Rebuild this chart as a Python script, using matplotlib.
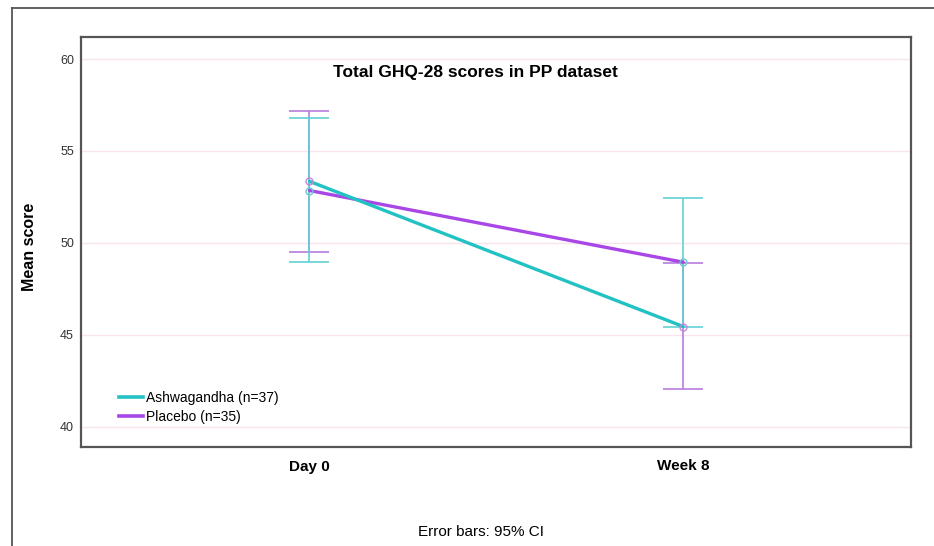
import matplotlib
matplotlib.use("Agg")
import matplotlib.pyplot as plt
from matplotlib.lines import Line2D

plt.rcParams['font.family'] = ['Liberation Sans', 'DejaVu Sans']

timepoints = ["Day 0", "Week 8"]
series_names = ["Ashwagandha (n=37)", "Placebo (n=35)"]
ash_mean = [53.35, 45.45]
ash_ci_low = [48.95, 45.45]
ash_ci_high = [56.8, 52.45]
pla_mean = [52.85, 48.95]
pla_ci_low = [49.5, 42.05]
pla_ci_high = [57.2, 48.9]
yticks = [40, 45, 50, 55, 60]

teal_line = "#22c1c3"
teal_err = "#5fd0d2"
purple_line = "#a846e6"
purple_err = "#b77ae0"

fig = plt.figure(figsize=(9.34, 5.46), dpi=100)
W, H = 934, 546
ax = fig.add_axes([81 / W, 1 - 447 / H, (911 - 81) / W, (447 - 37) / H])

x = list(range(len(timepoints)))

# error bars (placebo first, then ashwagandha on top)
for means, lo, hi, col in [(pla_mean, pla_ci_low, pla_ci_high, purple_err),
                           (ash_mean, ash_ci_low, ash_ci_high, teal_err)]:
    for xi, lo_i, hi_i in zip(x, lo, hi):
        ax.errorbar([xi], [(lo_i + hi_i) / 2], yerr=[[(hi_i - lo_i) / 2], [(hi_i - lo_i) / 2]],
                    fmt='none', ecolor=col, elinewidth=1.3, capsize=14.4, capthick=1.3,
                    zorder=3, alpha=0.9)

ax.plot(x, pla_mean, color=purple_line, lw=2.4, zorder=4, solid_capstyle='round')
ax.plot(x, ash_mean, color=teal_line, lw=2.4, zorder=5, solid_capstyle='round')
ax.plot(x, ash_mean, 'o', ms=5, mfc='none', mec="#c28ad8", mew=1.0, zorder=6)
ax.plot(x, pla_mean, 'o', ms=5, mfc='none', mec="#6fc9cf", mew=1.0, zorder=6)

ax.set_xlim(-0.611, 1.609)
ax.set_ylim(38.9, 61.2)
ax.set_yticks(yticks)
ax.set_yticklabels([str(t) for t in yticks], fontsize=9, color="#333333")
ax.set_xticks(x)
ax.set_xticklabels(timepoints, fontsize=11, fontweight='bold')
ax.tick_params(axis='both', length=0)
ax.tick_params(axis='x', pad=9)
ax.tick_params(axis='y', pad=5)
ax.set_ylabel("Mean score", fontsize=11.5, fontweight='bold')
ax.yaxis.set_label_coords((37 - 81) / (911 - 81), (447 - 247) / (447 - 37))

for t in yticks:
    ax.axhline(t, color="#fae2ee", lw=1.0, zorder=1)

for sp in ax.spines.values():
    sp.set_color("#555555")
    sp.set_linewidth(1.6)

ax.text((475 - 81) / (911 - 81), (447 - 72) / (447 - 37), "Total GHQ-28 scores in PP dataset",
        transform=ax.transAxes, ha='center', va='center', fontsize=12.5, fontweight='bold')

handles = [Line2D([0], [0], color=teal_line, lw=2.6),
           Line2D([0], [0], color=purple_line, lw=2.6)]
ax.legend(handles, series_names, loc='lower left', bbox_to_anchor=((119 - 81) / 830, 0.056),
          frameon=False, fontsize=10, handlelength=1.7, handletextpad=0.25,
          labelspacing=0.37, borderaxespad=0, borderpad=0)

fig.text(481 / W, 1 - 532 / H, "Error bars: 95% CI", ha='center', va='center', fontsize=11)

# outer frame (top and left border)
fig.add_artist(Line2D([12 / W, 1.0], [1 - 8 / H, 1 - 8 / H], transform=fig.transFigure,
                      color="#555555", lw=1.3))
fig.add_artist(Line2D([12 / W, 12 / W], [1 - 8 / H, 0.0], transform=fig.transFigure,
                      color="#555555", lw=1.3))

fig.savefig("out.png", dpi=100)
